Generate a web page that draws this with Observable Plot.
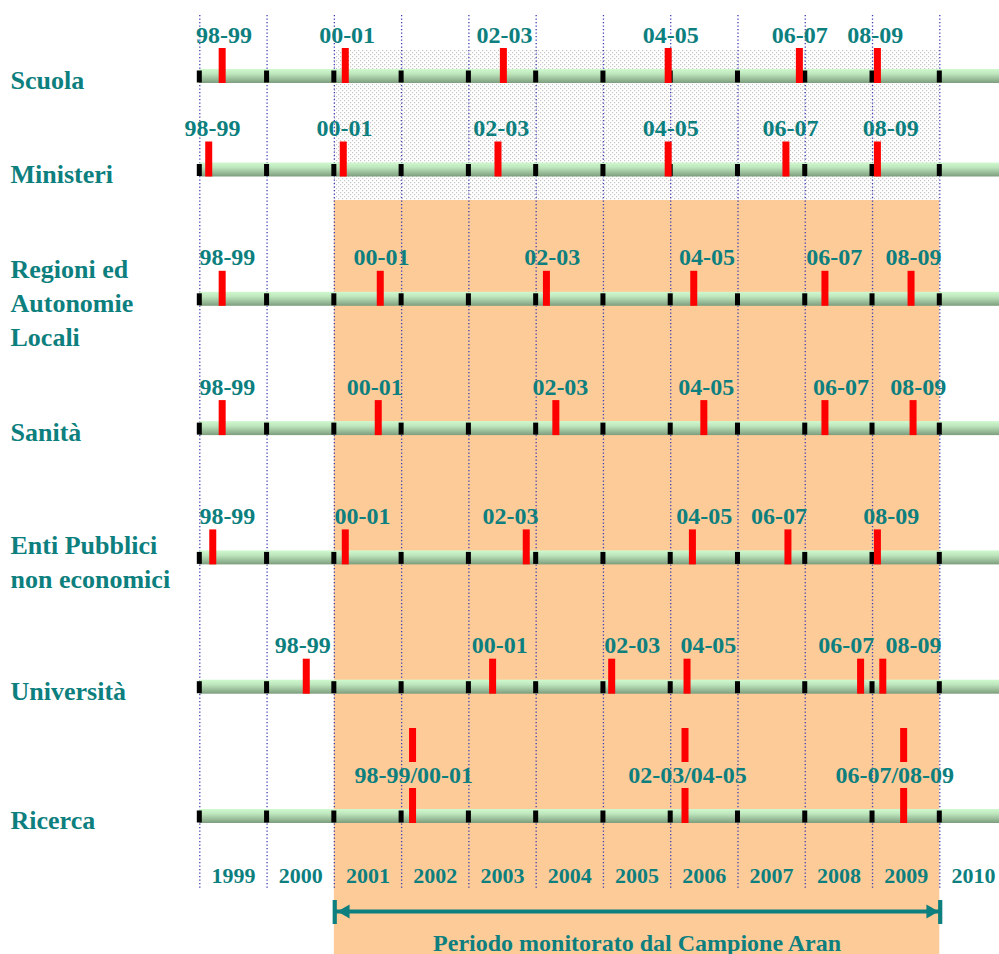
<!DOCTYPE html>
<html>
<head>
<meta charset="utf-8">
<script src="https://cdn.jsdelivr.net/npm/d3@7"></script>
<script src="https://cdn.jsdelivr.net/npm/@observablehq/plot@0.6"></script>
<style>
  body { margin: 0; background: #fff; }
  svg { display: block; }
</style>
</head>
<body>
<div id="chart"></div>
<script>
// ---- Data ----
const sectors = ["Scuola", "Ministeri", "Regioni ed\nAutonomie\nLocali", "Sanità",
                 "Enti Pubblici\nnon economici", "Università", "Ricerca"];
const contracts = ["98-99", "00-01", "02-03", "04-05", "06-07", "08-09"];
const ricercaContracts = ["98-99/00-01", "02-03/04-05", "06-07/08-09"];

// signing dates (fractional years)
const scuolaSign      = [1999.34, 2001.17, 2003.52, 2005.97, 2007.92, 2009.08];
const ministeriSign   = [1999.14, 2001.14, 2003.44, 2005.97, 2007.72, 2009.08];
const regioniSign     = [1999.34, 2001.69, 2004.16, 2006.35, 2008.30, 2009.58];
const sanitaSign      = [1999.34, 2001.66, 2004.30, 2006.50, 2008.30, 2009.61];
const entiSign        = [1999.20, 2001.17, 2003.86, 2006.33, 2007.75, 2009.08];
const universitaSign  = [2000.59, 2003.36, 2005.13, 2006.25, 2008.83, 2009.16];
const ricercaSign     = [2002.17, 2006.22, 2009.47];

// where each contract label is written (fractional years)
const scuolaLabelAt     = [1999.36, 2001.19, 2003.53, 2006.00, 2007.92, 2009.04];
const ministeriLabelAt  = [1999.19, 2001.15, 2003.48, 2006.00, 2007.78, 2009.27];
const regioniLabelAt    = [1999.41, 2001.70, 2004.24, 2006.54, 2008.43, 2009.61];
const sanitaLabelAt     = [1999.41, 2001.60, 2004.36, 2006.53, 2008.53, 2009.68];
const entiLabelAt       = [1999.41, 2001.42, 2003.62, 2006.50, 2007.61, 2009.28];
const universitaLabelAt = [2000.53, 2003.46, 2005.43, 2006.56, 2008.61, 2009.61];
const ricercaLabelAt    = [2002.18, 2006.25, 2009.33];

const years = [1999, 2000, 2001, 2002, 2003, 2004, 2005, 2006, 2007, 2008, 2009, 2010];
const timeline = [1999, 2011];
const period = [2001, 2010];
const periodLabel = "Periodo monitorato dal Campione Aran";

// ---- Tables built from the arrays ----
const signYears = [scuolaSign, ministeriSign, regioniSign, sanitaSign, entiSign, universitaSign, ricercaSign];
const labelYears = [scuolaLabelAt, ministeriLabelAt, regioniLabelAt, sanitaLabelAt, entiLabelAt, universitaLabelAt, ricercaLabelAt];
const signs = signYears.flatMap((arr, row) => arr.map((t, j) => ({
  row, t, lt: labelYears[row][j],
  label: row === 6 ? ricercaContracts[j] : contracts[j],
  split: row === 6
})));
const rows = sectors.map((name, row) => ({name, row}));
const ticks = rows.flatMap(r => years.map(year => ({row: r.row, year})));
const lastRow = rows.length - 1;

const teal = "#0D7F7E";
const font = "'Liberation Serif', 'Times New Roman', serif";

const chart = Plot.plot({
  width: 999,
  height: 954,
  margin: 0,
  style: {fontFamily: font, background: "white", overflow: "hidden"},
  x: {type: "linear", domain: [1999, 2010], range: [199.3, 939.3], axis: null},
  y: {type: "linear", domain: [0, 1, 6], range: [76, 169.5, 816], axis: null},
  marks: [
    // monitored period background
    Plot.rect([period], {x1: d => d[0], x2: d => d[1], fill: "#FDCB98", insetTop: 200}),
    Plot.rect([period], {x1: d => d[0], x2: d => d[1], fill: "url(#dots)", insetTop: 50, insetBottom: 754}),
    // dotted year boundaries
    Plot.ruleX(years, {stroke: "#3D3DB5", strokeWidth: 1.3, strokeDasharray: "1.3,2.2", insetTop: 15, insetBottom: 66}),
    // timelines
    Plot.rect(rows, {x1: () => timeline[0], x2: () => timeline[1], y1: "row", y2: "row",
      insetTop: -7, insetBottom: -7, fill: "url(#green)"}),
    Plot.rect(ticks, {x1: "year", x2: "year", y1: "row", y2: "row",
      insetLeft: -2.5, insetRight: -2.5, insetTop: -5.5, insetBottom: -6.5, fill: "black"}),
    // contract signings
    Plot.rect(signs, {x1: "t", x2: "t", y1: "row", y2: "row",
      insetLeft: -3.5, insetRight: -3.5, insetTop: -28, insetBottom: -7, fill: "#FF0000"}),
    Plot.rect(signs.filter(d => d.split), {x1: "t", x2: "t", y1: "row", y2: "row",
      insetLeft: -3.5, insetRight: -3.5, insetTop: -88, insetBottom: 54, fill: "#FF0000"}),
    Plot.text(signs, {x: "lt", y: "row", text: "label", dy: -34, lineAnchor: "bottom",
      fontSize: 24, fontWeight: "bold", fill: teal}),
    // sector names
    Plot.text(rows, {y: "row", text: "name", frameAnchor: "left", textAnchor: "start", dx: 10, dy: 2,
      lineAnchor: "middle", lineHeight: 1.3, fontSize: 26, fontWeight: "bold", fill: teal}),
    // year labels
    Plot.text(years, {x: d => d + 0.5, y: () => lastRow, text: d => String(d), dy: 66, lineAnchor: "bottom",
      fontSize: 22, fontWeight: "bold", fill: teal}),
    // period arrow
    Plot.ruleY([lastRow], {x1: () => period[0], x2: () => period[1], y: d => d, dy: 95, stroke: teal, strokeWidth: 4}),
    Plot.rect(period, {x1: d => d, x2: d => d, y1: () => lastRow, y2: () => lastRow,
      insetLeft: -1.2, insetRight: -3, insetTop: 84, insetBottom: -108, fill: teal}),
    Plot.dot([period[0]], {x: d => d, y: () => lastRow, dy: 95, dx: 11.2, symbol: "triangle", r: 5.2, rotate: -90, fill: teal, stroke: "none"}),
    Plot.dot([period[1]], {x: d => d, y: () => lastRow, dy: 95, dx: -9.3, symbol: "triangle", r: 5.2, rotate: 90, fill: teal, stroke: "none"}),
    Plot.text([periodLabel], {x: () => (period[0] + period[1]) / 2, y: () => lastRow, text: d => d, dy: 134,
      lineAnchor: "bottom", fontSize: 24, fontWeight: "bold", fill: teal})
  ]
});

d3.select(chart).insert("defs", ":first-child").html(`
  <linearGradient id="green" x1="0" y1="0" x2="0" y2="1">
    <stop offset="0" stop-color="#D0F9D0"/>
    <stop offset="0.35" stop-color="#BDE6BD"/>
    <stop offset="1" stop-color="#7D9D7D"/>
  </linearGradient>
  <pattern id="dots" width="4" height="4" patternUnits="userSpaceOnUse">
    <rect width="4" height="4" fill="#ffffff"/>
    <rect x="0" y="0" width="1.2" height="1.2" fill="#C4C4C4"/>
    <rect x="2" y="2" width="1.2" height="1.2" fill="#C4C4C4"/>
  </pattern>`);

document.getElementById("chart").appendChild(chart);
</script>
</body>
</html>
